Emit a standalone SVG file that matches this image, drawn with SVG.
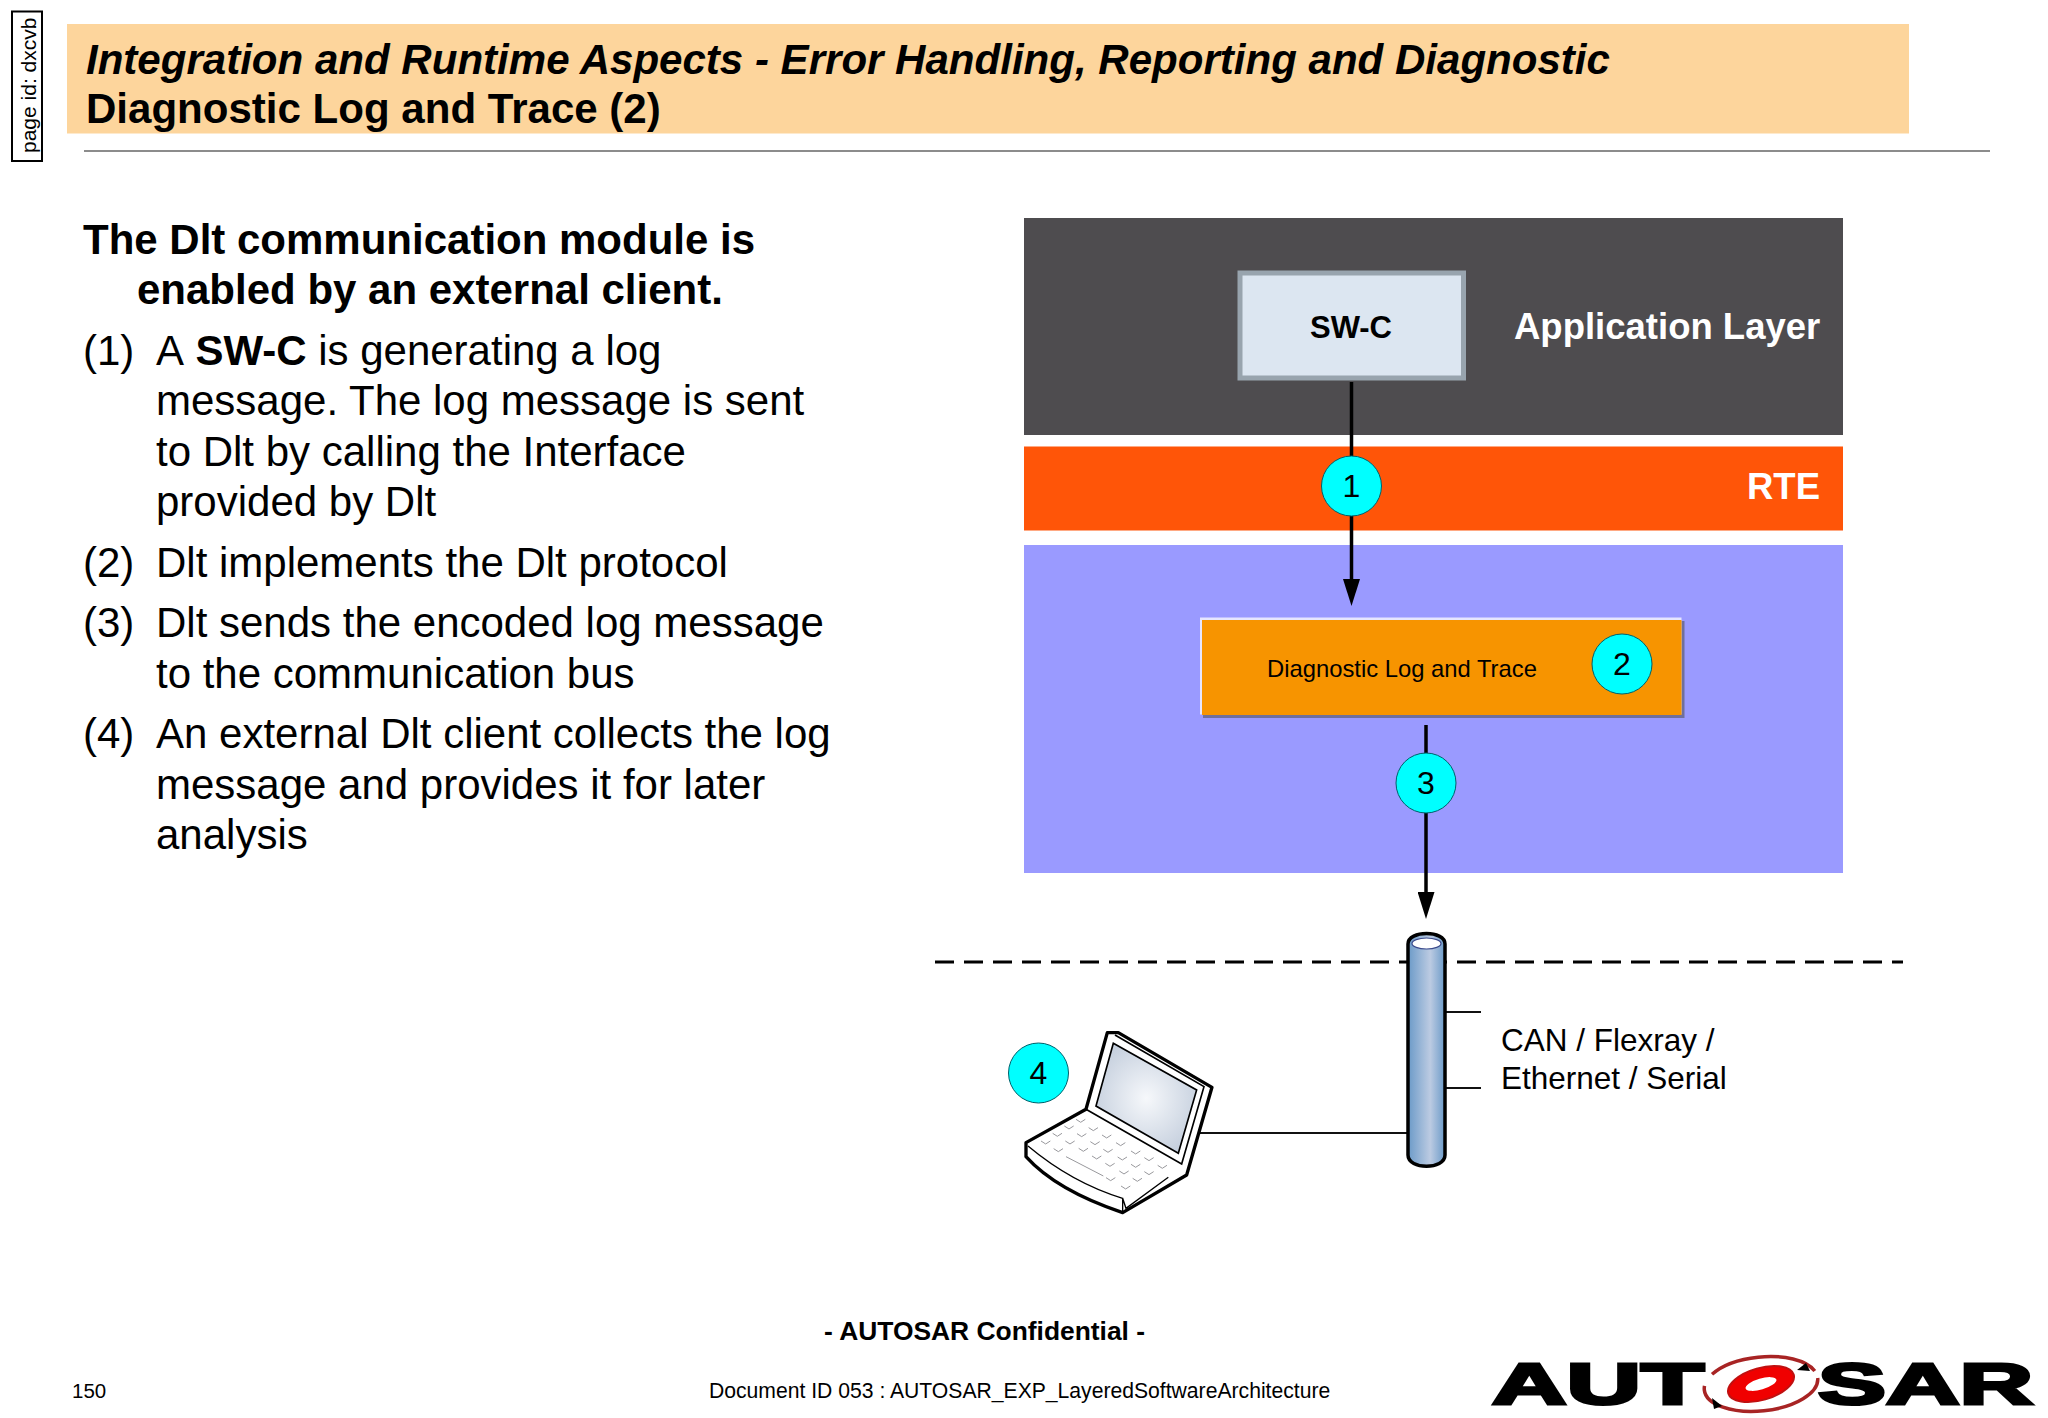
<svg xmlns="http://www.w3.org/2000/svg" width="2048" height="1418" viewBox="0 0 2048 1418">
<style>
text{font-family:"Liberation Sans",Arial,sans-serif;fill:#000}
.t{font-size:42.060px;font-weight:bold}
.b{font-size:42px}
.h{font-size:42px;font-weight:bold}
.d{font-size:32px;text-anchor:middle}
.w{fill:#fff;font-weight:bold;font-size:36.500px}
.c{fill:#00ffff;stroke:#00606a;stroke-width:1}
.l{stroke:#000;stroke-width:3.500;fill:none}
.n{stroke:#111;stroke-width:2;fill:none}
.k{stroke:#98989c;stroke-width:3;fill:none}
</style>
<defs>
<marker id="ah" markerUnits="userSpaceOnUse" markerWidth="27" markerHeight="17" refX="13" refY="8.500" orient="auto" viewBox="0 0 27 17"><path d="M0,0L27,8.500L0,17Z" fill="#000"/></marker>
<linearGradient id="cyl"><stop offset="0" stop-color="#6b9ac8"/><stop offset=".6" stop-color="#bccbe2"/><stop offset="1" stop-color="#6b9ac8"/></linearGradient>
<radialGradient id="scr" cx=".5" cy=".5" r=".55"><stop offset="0" stop-color="#f6f8fb"/><stop offset="1" stop-color="#c6d0de"/></radialGradient>
</defs>
<g id="page-id"><rect x="12" y="11.500" width="30" height="149.500" fill="#fff" stroke="#000" stroke-width="2"/><text transform="translate(35.500,153) rotate(-90)" font-size="21">page id: dxcvb</text></g>
<g id="header">
<rect x="67" y="24" width="1842" height="109.500" fill="#fdd59c"/>
<text class="t" x="86" y="73.500" font-style="italic">Integration and Runtime Aspects - Error Handling, Reporting and Diagnostic</text>
<text class="t" x="86" y="123">Diagnostic Log and Trace (2)</text>
<rect x="84" y="150" width="1906" height="2" fill="#8c8c8c"/>
</g>
<g id="description">
<text class="h" x="83" y="254">The Dlt communication module is</text>
<text class="h" x="137" y="304">enabled by an external client.</text>
<text class="b" x="83" y="365">(1)</text><text class="b" x="156" y="365">A <tspan dx="2" font-weight="bold">SW-C</tspan> is generating a log</text>
<text class="b" x="156" y="415">message. The log message is sent</text>
<text class="b" x="156" y="465.500">to Dlt by calling the Interface</text>
<text class="b" x="156" y="516">provided by Dlt</text>
<text class="b" x="83" y="576.500">(2)</text><text class="b" x="156" y="576.500">Dlt implements the Dlt protocol</text>
<text class="b" x="83" y="637">(3)</text><text class="b" x="156" y="637">Dlt sends the encoded log message</text>
<text class="b" x="156" y="687.500">to the communication bus</text>
<text class="b" x="83" y="748">(4)</text><text class="b" x="156" y="748">An external Dlt client collects the log</text>
<text class="b" x="156" y="798.500">message and provides it for later</text>
<text class="b" x="156" y="849">analysis</text>
</g>
<g id="application-layer"><rect x="1024" y="218" width="819" height="217" fill="#4e4c4f"/><text class="w" x="1514" y="338.500">Application Layer</text></g>
<g id="rte"><rect x="1024" y="446.500" width="819" height="84" fill="#ff5508"/><text class="w" x="1747" y="498.500">RTE</text></g>
<g id="bsw"><rect x="1024" y="545" width="819" height="328" fill="#9a9aff"/></g>
<g id="swc"><rect x="1240" y="273" width="223.500" height="105" fill="#dce6f1" stroke="#98a4ae" stroke-width="5"/><text x="1351" y="338" font-size="31" font-weight="bold" text-anchor="middle">SW-C</text></g>
<g id="dlt">
<rect x="1203" y="621" width="481.500" height="97" fill="#6f6f9c"/>
<rect x="1200" y="617.500" width="481.500" height="97" fill="#e6e6ff"/>
<rect x="1202" y="620" width="479.500" height="95" fill="#f79400"/>
<text x="1267" y="677" font-size="23.800">Diagnostic Log and Trace</text>
</g>
<line id="dash" x1="935" y1="962" x2="1903" y2="962" stroke="#000" stroke-width="3" stroke-dasharray="19 10"/>
<g id="connectors">
<line class="l" x1="1351.500" y1="382" x2="1351.500" y2="592" marker-end="url(#ah)"/>
<line class="l" x1="1426" y1="725" x2="1426" y2="905" marker-end="url(#ah)"/>
<path class="n" d="M1200,1133H1408M1446,1012H1481M1446,1088H1481"/>
</g>
<g id="step-1"><circle class="c" cx="1351.500" cy="486" r="30"/><text class="d" x="1351.500" y="497">1</text></g>
<g id="step-2"><circle class="c" cx="1622" cy="664" r="30"/><text class="d" x="1622" y="675">2</text></g>
<g id="step-3"><circle class="c" cx="1426" cy="783" r="30"/><text class="d" x="1426" y="794">3</text></g>
<g id="step-4"><circle class="c" cx="1038.500" cy="1073" r="30"/><text class="d" x="1038.500" y="1084">4</text></g>
<g id="bus">
<path d="M1408,944C1408,930 1445,930 1445,944V1155C1445,1170 1408,1170 1408,1155Z" fill="url(#cyl)" stroke="#000" stroke-width="3.500"/>
<ellipse cx="1426.500" cy="943.500" rx="14.500" ry="5.500" fill="#fff" stroke="#3a4a8c" stroke-width="1.200"/>
<text x="1501" y="1050.500" font-size="31.500">CAN / Flexray /</text>
<text x="1501" y="1088.500" font-size="31.500">Ethernet / Serial</text>
</g>
<g id="laptop" transform="translate(1000,900) scale(.3333)">
<path d="M78,728L258,628L322,398H355L636,562L560,825L368,938C270,905 150,850 78,770Z" fill="#fff" stroke="#000" stroke-width="10" stroke-linejoin="round"/>
<path d="M340,430L590,570L535,760L288,618Z" fill="url(#scr)" stroke="#000" stroke-width="5"/>
<path d="M345,405L612,560L545,792L258,628" fill="none" stroke="#000" stroke-width="5"/>
<path d="M84,738C170,810 270,865 368,895V938M368,895L378,925L505,832" fill="none" stroke="#000" stroke-width="4"/>
<path class="k" d="M228,658l14,9l14,-9M266,683l14,9l14,-9M306,705l14,9l14,-9M348,728l14,9l14,-9M393,753l14,9l14,-9M433,773l14,9l14,-9M473,796l14,9l14,-9M193,678l14,9l14,-9M231,701l14,9l14,-9M271,725l14,9l14,-9M310,748l14,9l14,-9M353,771l14,9l14,-9M393,793l14,9l14,-9M433,815l14,9l14,-9M158,700l14,9l14,-9M196,723l14,9l14,-9M236,745l14,9l14,-9M276,768l14,9l14,-9M316,790l14,9l14,-9M358,813l14,9l14,-9M398,835l14,9l14,-9M123,723l14,9l14,-9M161,746l14,9l14,-9M318,833l14,9l14,-9M363,858l14,9l14,-9M198,770L310,828"/>
</g>
<g id="footer">
<text x="824" y="1340" font-size="26.400" font-weight="bold">- AUTOSAR Confidential -</text>
<text x="72" y="1398" font-size="20.500">150</text>
<text x="709" y="1398" font-size="21.150">Document ID 053 : AUTOSAR_EXP_LayeredSoftwareArchitecture</text>
</g>
<g id="logo">
<text x="1492" y="1404" font-size="58" font-weight="bold" textLength="212" lengthAdjust="spacingAndGlyphs" stroke="#000" stroke-width="3">AUT</text>
<text x="1818" y="1404" font-size="58" font-weight="bold" textLength="215" lengthAdjust="spacingAndGlyphs" stroke="#000" stroke-width="3">SAR</text>
<ellipse cx="1761" cy="1384" rx="57" ry="27" transform="rotate(-6 1761 1384)" fill="#fff" stroke="#a82424" stroke-width="3.500" stroke-dasharray="140 14 110 14"/>
<ellipse cx="1761" cy="1384" rx="34" ry="16" transform="rotate(-16 1761 1384)" fill="#f00000" stroke="#c01010" stroke-width="2"/>
<ellipse cx="1761" cy="1384" rx="16" ry="5.500" transform="rotate(-16 1761 1384)" fill="#fff"/>
<path d="M1797,1370L1806,1363L1810,1371ZM1712,1398L1722,1406L1714,1409Z" fill="#000"/>
</g>
</svg>
